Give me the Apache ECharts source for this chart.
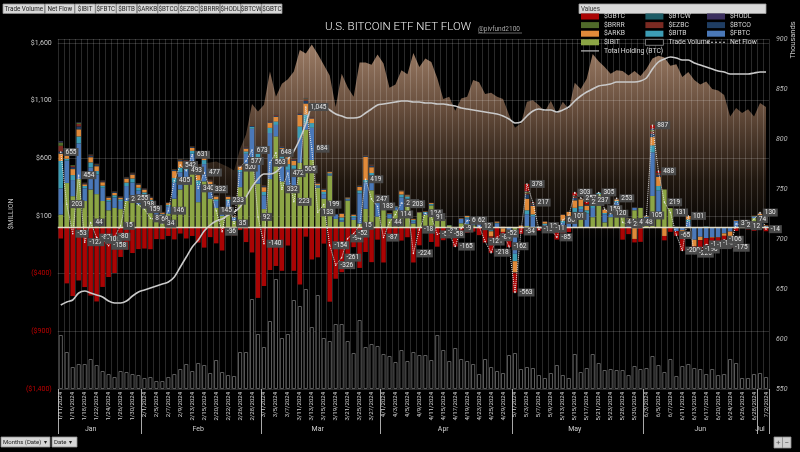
<!DOCTYPE html>
<html><head><meta charset="utf-8">
<script src="https://cdn.jsdelivr.net/npm/echarts@6/dist/echarts.min.js"></script>
<style>html,body{margin:0;padding:0;background:#000;}#c{width:800px;height:452px;}</style>
</head><body><div id="c"></div>
<script>
const dates = ['1/11','1/12','1/16','1/17','1/18','1/19','1/22','1/23','1/24','1/25','1/26','1/29','1/30','1/31',
'2/1','2/2','2/5','2/6','2/7','2/8','2/9','2/12','2/13','2/14','2/15','2/16','2/20','2/21','2/22','2/23','2/26','2/27','2/28','2/29',
'3/1','3/4','3/5','3/6','3/7','3/8','3/11','3/12','3/13','3/14','3/15','3/18','3/19','3/20','3/21','3/22','3/25','3/26','3/27','3/28',
'4/1','4/2','4/3','4/4','4/5','4/8','4/9','4/10','4/11','4/12','4/15','4/16','4/17','4/18','4/19','4/22','4/23','4/24','4/25','4/26','4/29','4/30',
'5/1','5/2','5/3','5/6','5/7','5/8','5/9','5/10','5/13','5/14','5/15','5/16','5/17','5/20','5/21','5/22','5/23','5/24','5/28','5/29','5/30','5/31',
'6/3','6/4','6/5','6/6','6/7','6/10','6/11','6/12','6/13','6/14','6/17','6/18','6/20','6/21','6/24','6/25','6/26','6/27','6/28',
'7/1','7/2'];
const monthNames = ['Jan','Feb','Mar','Apr','May','Jun','Jul'];
const monthStartIdx = [0,14,34,54,76,98,117];
const monthLabelIdx = [5,23,43,64,86,107,117];

const ibit = [112,386,272,420,230,330,290,230,150,170,160,230,250,200,
190,150,90,70,120,250,330,370,490,220,400,250,170,100,160,60,350,520,612,380,
160,420,790,400,300,310,562,849,586,345,250,451,75,50,234,66,35,162,323,95,
165,79,150,145,180,35,129,111,192,100,73,19,0,37,30,20,0,0,0,0,0,0,
-37,0,13,0,0,0,0,0,0,0,0,93,0,90,290,45,90,180,102,0,150,170,
50,274,100,330,168,6,0,0,0,0,0,0,0,0,0,0,0,0,82,
0,0];
const fbtc = [227,195,140,310,110,190,170,115,75,90,70,130,140,120,
90,75,50,40,65,140,150,130,150,150,150,100,60,30,70,25,130,120,245,230,
120,400,100,200,200,200,215,51,280,10,40,10,40,13,12,20,262,230,110,120,
44,34,25,117,70,20,0,16,5,5,0,0,-11,37,50,51,55,6,-23,36,-7,-36,
-191,5,103,99,6,22,15,15,40,70,131,67,120,80,0,71,25,40,35,70,20,0,
40,378,220,0,0,-31,-23,50,-106,-80,-92,-83,-83,-51,-35,58,10,18,11,
65,13];
const bitb = [238,16,43,60,20,45,30,18,15,20,15,30,35,25,
25,15,10,8,12,40,40,30,25,40,35,25,15,10,15,5,20,20,15,30,
30,45,30,40,50,30,100,80,40,12,20,10,0,25,6,15,25,20,40,30,
2,5,8,25,20,10,2,8,8,2,0,2,0,0,10,10,10,0,-10,6,0,-9,
-64,0,34,15,3,12,0,0,20,20,40,25,30,20,10,10,5,10,6,8,0,0,
5,61,40,0,0,0,0,20,0,0,8,0,0,0,0,0,7,0,5,
15,0];
const arkb = [65,38,52,62,15,45,42,30,20,20,15,35,35,28,
25,18,12,12,15,60,55,40,25,45,50,25,25,15,20,7,30,25,0,48,
40,45,40,50,60,40,100,95,40,15,18,10,0,30,8,10,30,200,50,30,
0,5,3,28,10,8,3,4,8,0,0,0,-20,5,10,10,10,0,-45,10,-31,-31,
-98,12,100,75,0,18,13,0,50,45,65,60,40,35,0,30,3,15,3,5,-99,0,
5,71,80,-73,0,0,-56,30,-58,-30,0,-6,-4,-21,-50,5,4,9,4,
40,5];
const btco = [17,45,16,25,8,12,10,8,5,8,5,8,8,6,
6,5,3,3,4,10,10,10,8,8,8,8,6,4,6,3,7,10,10,8,
9,10,10,10,10,10,12,25,8,5,6,5,2,5,3,4,8,8,12,7,
3,2,2,6,4,3,1,1,2,0,0,0,0,2,3,4,2,2,0,3,7,3,
-3,2,38,10,2,3,3,2,3,3,20,5,6,7,3,4,1,5,2,2,5,2,
3,30,15,0,0,0,0,1,0,0,0,0,0,0,0,0,0,0,0,
5,0];
const ezbc = [50,0,11,21,4,6,5,4,3,3,3,3,4,3,
3,3,2,2,2,4,5,5,4,4,5,4,3,2,3,1,3,5,5,4,
5,6,6,4,5,5,6,12,4,2,2,2,1,2,1,2,3,5,6,3,
1,1,1,3,2,2,1,1,1,0,0,0,0,0,1,1,1,1,0,1,3,2,
-2,1,10,5,1,1,1,1,2,1,10,4,4,3,1,2,1,2,1,0,2,0,
1,20,10,0,0,0,0,0,0,0,0,0,0,0,0,0,0,0,0,
3,0];
const brrr = [29,0,7,10,2,4,4,2,2,2,1,2,3,2,
1,1,1,1,1,3,3,2,2,2,2,2,2,1,2,1,1,2,2,2,
2,3,3,2,2,2,3,8,2,1,1,1,0,1,1,1,2,3,4,2,
1,0,0,2,1,1,0,0,0,0,0,0,0,0,1,1,0,0,0,0,1,1,
-1,0,10,5,0,0,0,1,1,1,5,2,2,2,1,2,0,1,0,0,1,0,
1,12,5,0,0,0,0,0,0,0,0,0,0,0,0,0,0,0,0,
2,0];
const hodl = [11,0,0,5,0,2,3,2,1,1,1,1,1,1,
1,1,0,0,0,1,1,1,0,1,1,1,1,1,1,0,1,1,0,0,
1,2,2,1,1,1,1,4,1,1,1,0,0,0,0,0,0,2,2,1,
0,0,0,0,0,0,0,0,0,0,0,0,0,0,0,0,0,0,0,0,0,1,
0,0,5,3,0,0,0,0,0,0,3,1,0,0,0,0,0,0,0,0,0,0,
0,8,3,0,0,0,0,0,0,0,0,0,0,0,0,0,0,0,0,
0,0];
const btcw = [1,7,0,0,0,0,0,0,0,0,0,0,0,0,
0,0,0,0,0,0,0,0,0,0,0,0,0,0,0,0,0,0,0,0,
0,0,0,0,0,0,0,0,0,0,0,0,0,0,0,0,0,0,0,0,
0,0,0,0,0,0,0,0,0,0,0,0,0,0,0,0,0,0,0,0,0,1,
0,0,2,1,0,0,0,0,0,0,2,0,0,0,0,0,0,0,0,0,0,0,
0,5,1,0,0,0,0,0,0,0,0,0,0,0,0,0,0,0,0,
0,0];
const gbtc = [-95,-484,-594,-459,-516,-590,-641,-515,-429,-394,-255,-192,-221,-187,
-182,-188,-100,-102,-73,-103,-52,-95,-73,-130,-174,-83,-137,-199,-44,-67,-22,-126,-216,-610,
-507,-368,-333,-375,-156,-375,-494,-79,-277,-258,-139,-643,-444,-387,-359,-170,-350,-212,-300,-105,
-303,-82,-75,-113,-84,-303,-154,-17,-125,-166,-110,-79,-134,-90,-45,-35,-66,-130,-140,-140,-25,-94,
-167,-54,63,4,-28,-44,-43,-104,-50,-39,27,0,20,0,0,-5,-5,0,-105,-57,-30,-124,
0,28,14,-38,-37,-40,-121,0,-62,-80,-62,-63,-53,-34,-90,-30,0,-15,-28,
0,-32];
const netFlow = [655,203,-53,454,-127,44,-87,-106,-158,-80,15,247,255,198,
159,80,68,34,146,405,542,493,631,340,477,332,145,-36,233,35,520,577,673,92,
-140,563,648,332,472,223,505,1045,684,133,199,-154,-326,-261,-94,-52,15,419,247,183,
-87,44,114,213,203,-224,-18,124,91,-59,-37,-58,-165,-9,60,62,12,-121,-218,-84,-52,-162,
-563,-34,378,217,-16,12,-11,-85,66,101,303,257,222,237,305,159,120,253,44,28,49,48,
105,887,488,219,131,-65,-200,101,-226,-190,-146,-152,-140,-106,-175,33,21,12,74,
130,-14];
const holding = [634,637,639,646,648,646,644,642,638,636,636,638,643,647,
649,651,653,655,657,662,672,682,692,699,708,714,718,720,724,727,732,742,752,760,
765,765,767,773,780,788,800,815,833,835,834,829,825,823,821,821,822,826,830,834,
835,836,837,838,838,837,837,836,836,835,835,834,833,831,830,829,828,827,826,825,823,820,
816,817,823,828,830,829,829,827,829,832,838,843,847,850,853,854,855,857,857,857,857,858,
861,870,877,880,882,881,879,879,876,874,872,870,868,867,865,865,865,865,866,
867,867];
const volume = [5.4,3.7,2.2,2.5,2.5,3.0,2.4,1.8,1.5,1.2,1.8,1.7,1.5,1.4,
1.1,1.2,0.8,0.8,1.2,1.5,2.0,2.5,1.8,2.6,2.4,1.6,2.9,1.7,1.4,1.3,3.7,3.7,9.0,5.5,
4.2,6.8,11.0,5.1,5.5,8.9,8.3,10.0,6.2,9.4,5.1,4.8,6.5,6.5,4.8,3.6,6.9,4.2,4.5,4.3,
3.5,3.3,2.7,3.9,2.8,3.7,3.4,3.4,2.9,5.4,3.9,2.8,4.1,3.0,2.8,2.5,1.5,3.0,2.2,1.8,1.6,3.4,
3.6,2.0,2.2,2.1,1.4,1.1,1.6,2.4,1.4,1.1,3.5,1.7,2.1,3.5,2.6,1.9,2.0,1.9,1.9,1.4,2.3,2.0,
2.1,3.3,2.4,1.7,3.0,1.3,2.3,2.5,2.1,2.0,1.5,2.0,1.4,1.5,3.0,2.6,1.1,1.1,1.5,
1.6,1.2];
const btcPrice = [46.6,42.8,43.1,42.7,41.3,41.6,39.5,39.9,40.1,40.0,41.8,43.3,42.9,42.6,
43.1,43.2,42.6,43.1,44.3,45.3,47.1,50.0,49.7,51.8,52.0,52.1,52.3,51.8,51.3,50.7,54.5,57.1,62.5,61.2,
62.4,68.3,63.8,66.1,66.9,68.3,72.1,71.5,73.1,71.4,69.5,67.6,62.0,67.9,65.5,63.8,69.9,69.9,69.5,71.3,
69.7,65.4,66.0,68.5,67.8,71.6,69.1,70.6,70.0,67.1,63.4,63.8,61.3,63.5,63.8,66.8,66.4,64.3,64.5,63.8,63.4,60.6,
58.3,59.1,62.9,63.2,62.3,61.2,63.1,60.8,62.9,61.6,66.3,65.2,67.0,71.4,70.1,69.1,67.9,68.5,68.4,67.6,68.4,67.5,
68.8,70.6,71.1,70.8,69.3,69.6,67.3,68.2,66.8,66.0,66.5,65.2,64.9,64.1,60.3,61.8,60.9,61.6,60.3,
62.7,62.0];
const leftTicks = {min:-1400, max:1635, step:500};
const rightTicks = {min:550, max:900, step:50};
const fieldButtons = ['Trade Volume','Net Flow','$IBIT','$FBTC','$BITB','$ARKB','$BTCO','$EZBC','$BRRR','$HODL','$BTCW','$GBTC'];

const etfs = [
  ['$IBIT', ibit, '#8ca545'],
  ['$FBTC', fbtc, '#4a78b8'],
  ['$BITB', bitb, '#3d9db5'],
  ['$ARKB', arkb, '#e08a3a'],
  ['$BTCO', btco, '#1f3d62'],
  ['$EZBC', ezbc, '#7b2a22'],
  ['$BRRR', brrr, '#4f6a2a'],
  ['$HODL', hodl, '#3b2f5e'],
  ['$BTCW', btcw, '#1d5c66'],
  ['$GBTC', gbtc, '#aa0404']
];

function fmtNum(v){ return String(Math.abs(v)).replace(/\B(?=(\d{3})+(?!\d))/g, ','); }

const chart = echarts.init(document.getElementById('c'), null, {renderer:'canvas'});
const FONT = 'Roboto';
const gridLine = 'rgba(255,255,255,0.16)';

const series = [];
etfs.forEach(function(e){
  series.push({
    name: e[0], type:'bar', stack:'etf', xAxisIndex:0, yAxisIndex:0,
    data: e[1], itemStyle:{color:e[2]}, barCategoryGap:'24%', z:3
  });
});
series.push({
  name:'Trade Volume', type:'bar', xAxisIndex:1, yAxisIndex:2, data: volume,
  barCategoryGap:'30%', itemStyle:{color:'#000', borderColor:'#5c5c5c', borderWidth:1}, z:2
});
series.push({
  name:'BTC Price', type:'line', xAxisIndex:0, yAxisIndex:3, data: btcPrice,
  symbol:'none', silent:true, z:-1, lineStyle:{width:0},
  areaStyle:{opacity:1, color:{type:'linear', x:0, y:40, x2:0, y2:240, global:true,
    colorStops:[{offset:0,color:'#a08069'},{offset:0.35,color:'#654c3b'},{offset:0.7,color:'#20170f'},{offset:1,color:'#000000'}]}}
});
series.push({
  name:'Total Holding (BTC)', type:'line', xAxisIndex:0, yAxisIndex:1, data: holding,
  symbol:'none', smooth:0.3, lineStyle:{color:'#c9c9c9', width:1.6}, itemStyle:{color:'#c9c9c9'}, z:4
});
series.push({
  name:'Net Flow', type:'line', xAxisIndex:0, yAxisIndex:0, data: netFlow,
  symbol:'circle', symbolSize:1.5, showSymbol:true, showAllSymbol:true,
  lineStyle:{color:'#e6e6e6', width:1, type:'dotted'}, itemStyle:{color:'#e6e6e6'}, z:6,
  label:{show:true, position:'right', distance:2, fontSize:6.5, fontFamily:FONT, color:'#e8e8e8',
    backgroundColor:'#4a4a4a', padding:[1,2,0,2],
    formatter: function(p){ return (p.value<0?'-':'') + fmtNum(p.value); }},
  labelLayout:{hideOverlap:false},
  markLine:{silent:true, symbol:'none', label:{show:false}, animation:false,
    lineStyle:{color:'#e2dcc8', width:1.3, type:'solid'}, data:[{yAxis:0}]}
});

const graphics = [];
let bx = 3;
fieldButtons.forEach(function(t){
  const w = t.length*3.05 + 5;
  graphics.push({type:'rect', shape:{x:bx, y:4, width:w, height:9.5}, style:{fill:'#d7d7d7', stroke:'#8f8f8f', lineWidth:0.8}});
  graphics.push({type:'text', style:{text:t, x:bx+w/2, y:9, align:'center', verticalAlign:'middle', fontSize:6.3, fontFamily:FONT, fill:'#222'}});
  bx += w + 0.5;
});
graphics.push({type:'text', style:{text:'U.S. BITCOIN ETF NET FLOW', x:398, y:27, align:'center', verticalAlign:'middle', fontSize:11.5, fontWeight:300, fontFamily:FONT, fill:'#f2f2f2'}});
graphics.push({type:'text', style:{text:'@pivfund2100', x:478, y:29, align:'left', verticalAlign:'middle', fontSize:6.5, fontFamily:FONT, fill:'#a8a8a8'}});
graphics.push({type:'line', shape:{x1:478, y1:33, x2:522, y2:33}, style:{stroke:'#a8a8a8', lineWidth:0.6}});
graphics.push({type:'rect', shape:{x:579, y:4, width:187, height:9.5}, style:{fill:'#d9d9d9', stroke:'#a0a0a0', lineWidth:0.8}});
graphics.push({type:'text', style:{text:'Values', x:581, y:9, align:'left', verticalAlign:'middle', fontSize:6.3, fontFamily:FONT, fill:'#333'}});
graphics.push({type:'text', x:793, y:40, rotation:Math.PI/2, style:{text:'Thousands', x:0, y:0, align:'center', verticalAlign:'middle', fontSize:7.5, fontFamily:FONT, fill:'#c8c8c8'}});
graphics.push({type:'rect', shape:{x:1, y:437, width:49, height:10}, style:{fill:'#d7d7d7', stroke:'#8f8f8f', lineWidth:0.8}});
graphics.push({type:'text', style:{text:'Months (Date)  \u25BE', x:3, y:442.5, align:'left', verticalAlign:'middle', fontSize:6, fontFamily:FONT, fill:'#222'}});
graphics.push({type:'rect', shape:{x:52, y:437, width:25, height:10}, style:{fill:'#d7d7d7', stroke:'#8f8f8f', lineWidth:0.8}});
graphics.push({type:'text', style:{text:'Date  \u25BE', x:54, y:442.5, align:'left', verticalAlign:'middle', fontSize:6, fontFamily:FONT, fill:'#222'}});
graphics.push({type:'rect', shape:{x:774, y:437, width:8.5, height:11}, style:{fill:'#d0d0d0', stroke:'#8f8f8f', lineWidth:0.8}});
graphics.push({type:'rect', shape:{x:782.5, y:437, width:8.5, height:11}, style:{fill:'#d0d0d0', stroke:'#8f8f8f', lineWidth:0.8}});
graphics.push({type:'text', style:{text:'+', x:778.2, y:442.5, align:'center', verticalAlign:'middle', fontSize:8, fontFamily:FONT, fill:'#555'}});
graphics.push({type:'text', style:{text:'\u2212', x:786.8, y:442.5, align:'center', verticalAlign:'middle', fontSize:8, fontFamily:FONT, fill:'#555'}});

const legendBase = {orient:'vertical', top:13, itemWidth:18, itemHeight:6, itemGap:1.6, icon:'rect',
  textStyle:{color:'#d8d8d8', fontSize:6.8, fontFamily:FONT, lineHeight:7}, padding:0, inactiveColor:'#444'};

const option = {
  backgroundColor:'#000',
  animation:false,
  textStyle:{fontFamily:FONT},
  graphic: graphics,
  legend: [
    Object.assign({}, legendBase, {left:581, data:['$GBTC','$BRRR','$ARKB','$IBIT',{name:'Total Holding (BTC)', icon:'path://M0,4.5L18,4.5L18,5.7L0,5.7Z', itemStyle:{color:'#bdbdbd'}}]}),
    Object.assign({}, legendBase, {left:645, data:['$BTCW','$EZBC','$BITB',{name:'Trade Volume', itemStyle:{color:'#000', borderColor:'#9a9a9a', borderWidth:0.8}}]}),
    Object.assign({}, legendBase, {left:707, data:['$HODL','$BTCO','$FBTC',{name:'Net Flow', icon:'path://M0,4.6h2v1h-2zM4,4.6h2v1h-2zM8,4.6h2v1h-2zM12,4.6h2v1h-2zM16,4.6h2v1h-2z', itemStyle:{color:'#cfcfcf'}}]})
  ],
  grid:{left:47, right:31, top:39, bottom:63, containLabel:false},
  xAxis:[
    {type:'category', data:dates, gridIndex:0, boundaryGap:true, position:'bottom',
      axisLine:{show:false}, axisTick:{show:false},
      axisLabel:{interval:1, rotate:90, fontSize:6, color:'#cfcfcf', margin:3, fontFamily:FONT,
        formatter:function(v){ return v + '/2024'; }},
      splitLine:{show:true, interval:0, lineStyle:{color:gridLine, width:1}}},
    {type:'category', data:dates, gridIndex:0, show:false, boundaryGap:true},
    {type:'category', data:dates, gridIndex:0, boundaryGap:true, position:'bottom',
      axisLine:{show:false},
      axisTick:{show:true, length:45, inside:false, interval:function(i){ return monthStartIdx.indexOf(i) >= 0; }, lineStyle:{color:'#a8a8a8', width:1}},
      axisLabel:{interval:function(i){ return monthLabelIdx.indexOf(i) >= 0; }, margin:37, fontSize:7, color:'#cfcfcf', fontFamily:FONT,
        formatter:function(v){ return monthNames[parseInt(v.split('/')[0],10)-1]; }},
      splitLine:{show:false}}
  ],
  yAxis:[
    {type:'value', position:'left', min:leftTicks.min, max:leftTicks.max, interval:leftTicks.step,
      axisLine:{show:false}, axisTick:{show:false},
      axisLabel:{fontSize:7, margin:6, fontFamily:FONT, showMaxLabel:false,
        color:function(v){ return Number(v) < 0 ? '#c00000' : '#c8c8c8'; },
        formatter:function(v){ return v < 0 ? '($' + fmtNum(v) + ')' : '$' + fmtNum(v); }},
      splitLine:{show:true, lineStyle:{color:gridLine, width:1}},
      name:'$MILLION', nameLocation:'middle', nameGap:33, nameRotate:90,
      nameTextStyle:{color:'#bcbcbc', fontSize:7, fontFamily:FONT}},
    {type:'value', position:'right', min:rightTicks.min, max:rightTicks.max, interval:rightTicks.step,
      axisLine:{show:false}, axisTick:{show:false},
      axisLabel:{fontSize:7, margin:7, color:'#bdbdbd', fontStyle:'italic', fontFamily:FONT},
      splitLine:{show:false}},
    {type:'value', min:0, max:35, show:false, splitLine:{show:false}},
    {type:'value', min:11.85, max:74.07, show:false, splitLine:{show:false}}
  ],
  series: series
};
chart.setOption(option);
</script></body></html>
